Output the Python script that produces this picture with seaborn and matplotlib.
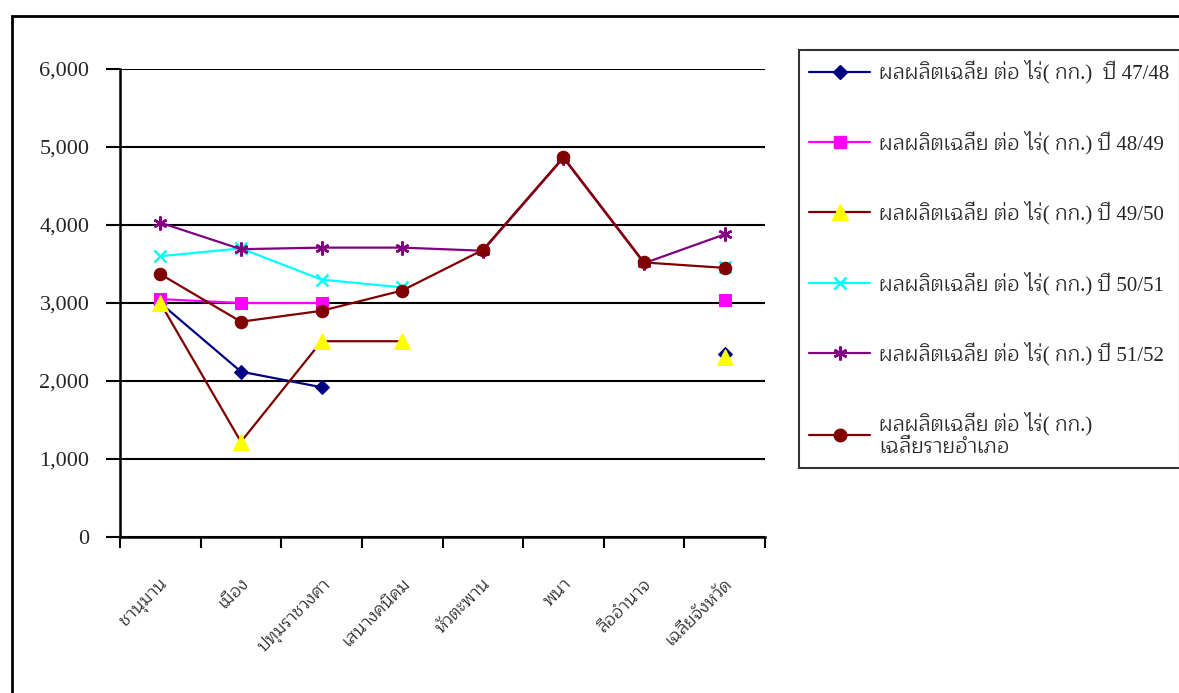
import numpy as np
import pandas as pd
import matplotlib
matplotlib.use("Agg")
import matplotlib.pyplot as plt
from matplotlib.lines import Line2D
from matplotlib.patches import Rectangle
from matplotlib.ticker import FixedLocator, StrMethodFormatter
import seaborn as sns

# ---------------------------------------------------------------------------
# DATA (NaN = no value shown)
# ---------------------------------------------------------------------------
districts = ["ชานุมาน", "เมือง", "ปทุมราชวงศา", "เสนางคนิคม",
             "หัวตะพาน", "พนา", "ลืออำนาจ", "เฉลี่ยจังหวัด"]

y4748 = [3000, 2120, 1920, np.nan, np.nan, np.nan, np.nan, 2340]
y4849 = [3050, 3000, 3000, np.nan, np.nan, np.nan, np.nan, 3040]
y4950 = [3000, 1220, 2510, 2510, np.nan, np.nan, np.nan, 2310]
y5051 = [3600, 3700, 3300, 3200, np.nan, np.nan, np.nan, 3460]
y5152 = [4030, 3690, 3710, 3710, 3670, 4860, 3510, 3880]
avg_district = [3370, 2760, 2900, 3160, 3680, 4870, 3520, 3450]

series_labels = [
    "ผลผลิตเฉลี่ย ต่อ ไร่( กก.)  ปี 47/48",
    "ผลผลิตเฉลี่ย ต่อ ไร่( กก.) ปี 48/49",
    "ผลผลิตเฉลี่ย ต่อ ไร่( กก.) ปี 49/50",
    "ผลผลิตเฉลี่ย ต่อ ไร่( กก.) ปี 50/51",
    "ผลผลิตเฉลี่ย ต่อ ไร่( กก.) ปี 51/52",
    "ผลผลิตเฉลี่ย ต่อ ไร่( กก.)\nเฉลี่ยรายอำเภอ",
]
y_ticks = [0, 1000, 2000, 3000, 4000, 5000, 6000]

# serif digits, looped serif Thai for the Thai glyphs
sns.set_theme(style="white")
plt.rcParams["font.family"] = ["Liberation Serif", "Maitree", "DejaVu Sans"]

styles = [
    dict(color="#000080", marker="D", markersize=7.5, mfc="#000080", mec="#000080"),
    dict(color="#FF00FF", marker="s", markersize=9, mfc="#FF00FF", mec="#FF00FF"),
    dict(color="#800000", marker="^", markersize=11, mfc="#FFFF00", mec="#FFFF00"),
    dict(color="#00FFFF", marker="x", markersize=8, mfc="#00FFFF", mec="#00FFFF", mew=1.8),
    dict(color="#800080", marker=(6, 2, 0), markersize=10, mfc="#800080", mec="#800080", mew=1.8),
    dict(color="#800000", marker="o", markersize=9, mfc="#800000", mec="#800000"),
]
all_series = [y4748, y4849, y4950, y5051, y5152, avg_district]

fig = plt.figure(figsize=(11.79, 6.93), dpi=100)
fig.patch.set_facecolor("white")
ax = fig.add_axes([120 / 1179, 1 - 537 / 693, 645 / 1179, 468 / 693])
ax.set_facecolor("white")

for vals, st in zip(all_series, styles):
    d = pd.DataFrame({"x": np.arange(len(districts)), "y": vals})
    # break the line wherever a value is missing
    d["seg"] = d["y"].isna().cumsum()
    d = d.dropna()
    sns.lineplot(data=d, x="x", y="y", units="seg", estimator=None, ax=ax,
                 linewidth=1.6, legend=False, zorder=3, **st)

# axes, grid, ticks
ax.set_xlim(-0.5, len(districts) - 0.5)
ax.set_ylim(0, 6000)
ax.set_yticks(y_ticks)
ax.yaxis.set_major_formatter(StrMethodFormatter("{x:,.0f}"))
ax.yaxis.grid(True, color="black", linewidth=1.5)
ax.set_axisbelow(True)
ax.xaxis.set_major_locator(FixedLocator(np.arange(-0.5, len(districts), 1.0)))
ax.xaxis.set_minor_locator(FixedLocator(np.arange(len(districts))))
ax.set_xticklabels([])
ax.set_xticklabels(districts, minor=True, rotation=45, ha="right",
                   rotation_mode="anchor", fontsize=12.5)
ax.tick_params(axis="x", which="major", direction="out", length=8, width=1.5,
               color="black", bottom=True)
ax.tick_params(axis="x", which="minor", length=0, pad=28)
ax.tick_params(axis="y", direction="out", length=10, width=1.5, color="black",
               left=True, pad=12, labelsize=16)
ax.set_xlabel("")
ax.set_ylabel("")
for side in ["top", "right"]:
    ax.spines[side].set_visible(False)
for side in ["left", "bottom"]:
    ax.spines[side].set_color("black")
    ax.spines[side].set_linewidth(1.8)

# legend
handles = [Line2D([0], [0], linewidth=1.6, **st) for st in styles]
leg = fig.legend(handles, series_labels, loc="upper left",
                 bbox_to_anchor=(799 / 1179, 1 - 50 / 693), borderaxespad=0,
                 frameon=True, fancybox=False, edgecolor="black", fontsize=15,
                 handlelength=2.9, handletextpad=0.45, labelspacing=2.25,
                 borderpad=0.5)
leg.get_frame().set_linewidth(1.5)

# outer chart-area frame
fig.patches.append(Rectangle((12 / 1179, -0.2), 1.5, 1.2 - 16 / 693, fill=False,
                             edgecolor="black", linewidth=2,
                             transform=fig.transFigure, figure=fig))

fig.savefig("out.png", dpi=100)
